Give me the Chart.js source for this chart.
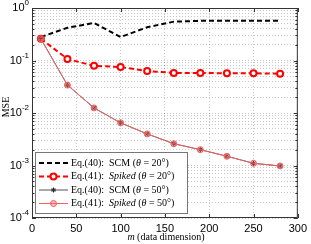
<!DOCTYPE html>
<html>
<head>
<meta charset="utf-8">
<script src="https://cdn.jsdelivr.net/npm/chart.js@4.4.0/dist/chart.umd.min.js"></script>
<style>
  html, body { margin: 0; padding: 0; background: #fff; }
</style>
</head>
<body>
<canvas id="mseChart" width="311" height="244"></canvas>
<script>
// m values (data dimension)
const dims = [10, 40, 70, 100, 130, 160, 190, 220, 250, 280];
// MSE
const scm20 = [0.28, 0.42, 0.52, 0.28, 0.43, 0.55, 0.57, 0.57, 0.57, 0.57];
const spiked20 = [0.26, 0.107, 0.079, 0.075, 0.063, 0.058, 0.058, 0.057, 0.057, 0.056];
const scm50 = [0.26, 0.034, 0.0125, 0.0065, 0.004, 0.0026, 0.002, 0.0015, 0.0011, 0.00098];
const spiked50 = [0.26, 0.034, 0.0125, 0.0065, 0.004, 0.0026, 0.002, 0.0015, 0.0011, 0.00098];

const xTicks = [0, 50, 100, 150, 200, 250, 300];
const yDecades = [-4, -3, -2, -1, 0];

const serif = '"Liberation Serif", "DejaVu Serif", serif';
const sans = '"Liberation Sans", Arial, sans-serif';

function pts(ys) {
  return dims.map((m, i) => ({ x: m, y: ys[i] }));
}

// log ticks: every 1..9 x 10^n, majors at the decades
function logTicks() {
  let out = [];
  yDecades.forEach((e, k) => {
    const top = k === yDecades.length - 1 ? 1 : 9;
    for (let s = 1; s <= top; s++) {
      out.push({ value: s * Math.pow(10, e), major: s === 1 });
    }
  });
  return out;
}

function drawRich(ctx, parts, x, y, size, align) {
  ctx.save();
  ctx.textBaseline = "middle";
  ctx.textAlign = "left";
  ctx.fillStyle = "#000";
  let total = 0;
  parts.forEach((p) => {
    ctx.font = (p[1] ? "italic " : "") + size + "px " + serif;
    total += ctx.measureText(p[0]).width;
  });
  let cx = align === "center" ? x - total / 2 : x;
  parts.forEach((p) => {
    ctx.font = (p[1] ? "italic " : "") + size + "px " + serif;
    ctx.fillText(p[0], cx, y);
    cx += ctx.measureText(p[0]).width;
  });
  ctx.restore();
}

// frame, inward ticks, y labels with exponents, axis titles, legend
const decorations = {
  id: "decorations",
  afterDraw(chart) {
    const ctx = chart.ctx;
    const a = chart.chartArea;
    const xs = chart.scales.x;
    const ys = chart.scales.y;
    ctx.save();

    // frame
    ctx.strokeStyle = "#333";
    ctx.lineWidth = 1;
    ctx.strokeRect(a.left + 0.5, a.top + 0.5, a.right - a.left - 1, a.bottom - a.top - 1);

    // inward ticks
    ctx.beginPath();
    xTicks.forEach((v) => {
      const px = Math.round(xs.getPixelForValue(v)) + 0.5;
      ctx.moveTo(px, a.bottom);
      ctx.lineTo(px, a.bottom - 4);
      ctx.moveTo(px, a.top);
      ctx.lineTo(px, a.top + 4);
    });
    logTicks().forEach((t) => {
      const py = Math.round(ys.getPixelForValue(t.value)) + 0.5;
      const len = t.major ? 4 : 2.5;
      ctx.moveTo(a.left, py);
      ctx.lineTo(a.left + len, py);
      ctx.moveTo(a.right, py);
      ctx.lineTo(a.right - len, py);
    });
    ctx.stroke();

    // y tick labels 10^n
    ctx.fillStyle = "#000";
    ctx.textBaseline = "middle";
    yDecades.forEach((e) => {
      const py = ys.getPixelForValue(Math.pow(10, e));
      const expTxt = e === 0 ? "0" : "-" + Math.abs(e);
      ctx.font = "8px " + sans;
      const ew = ctx.measureText(expTxt).width;
      ctx.textAlign = "right";
      ctx.fillText(expTxt, 29, py - 5);
      ctx.font = "11px " + sans;
      ctx.fillText("10", 29 - ew, py);
    });

    // y title
    ctx.save();
    ctx.translate(6, 107);
    ctx.rotate(-Math.PI / 2);
    ctx.font = "10px " + serif;
    ctx.textAlign = "center";
    ctx.textBaseline = "middle";
    ctx.fillText("MSE", 0, 0);
    ctx.restore();

    // x title
    drawRich(ctx, [["m", true], [" (data dimension)", false]], 166, 237, 10, "center");

    // legend
    const lx = 35, ly = 152, lw = 152, lh = 61;
    ctx.fillStyle = "#fff";
    ctx.fillRect(lx, ly, lw, lh);
    ctx.strokeStyle = "#777";
    ctx.lineWidth = 1;
    ctx.strokeRect(lx + 0.5, ly + 0.5, lw, lh);

    const rows = [
      { ds: 0, parts: [["Eq.(40):  SCM (", false], ["\u03b8", true], [" = 20\u00b0)", false]] },
      { ds: 1, parts: [["Eq.(41):  ", false], ["Spiked", true], [" (", false], ["\u03b8", true], [" = 20\u00b0)", false]] },
      { ds: 2, parts: [["Eq.(40):  SCM (", false], ["\u03b8", true], [" = 50\u00b0)", false]] },
      { ds: 3, parts: [["Eq.(41):  ", false], ["Spiked", true], [" (", false], ["\u03b8", true], [" = 50\u00b0)", false]] },
    ];
    rows.forEach((r, i) => {
      const y = ly + 11 + i * 13.5;
      const d = chart.data.datasets[r.ds];
      ctx.save();
      ctx.strokeStyle = d.borderColor;
      ctx.lineWidth = d.borderWidth;
      ctx.setLineDash(d.borderDash || []);
      ctx.beginPath();
      ctx.moveTo(39, y);
      ctx.lineTo(68, y);
      ctx.stroke();
      ctx.restore();
      if (d.pointRadius > 0) {
        ctx.save();
        ctx.fillStyle = d.pointBackgroundColor;
        ctx.strokeStyle = d.pointBorderColor;
        ctx.lineWidth = d.pointBorderWidth;
        Chart.helpers.drawPoint(ctx, {
          pointStyle: d.pointStyle,
          radius: d.pointRadius,
          rotation: 0,
          borderWidth: d.pointBorderWidth,
        }, 53.5, y);
        ctx.restore();
      }
      drawRich(ctx, r.parts, 71, y, 10, "left");
    });

    ctx.restore();
  },
};

const ctx = document.getElementById("mseChart").getContext("2d");

new Chart(ctx, {
  type: "line",
  data: {
    datasets: [
      {
        label: "Eq.(40): SCM (\u03b8 = 20\u00b0)",
        data: pts(scm20),
        borderColor: "#000",
        borderWidth: 2,
        borderDash: [5, 3],
        pointRadius: 0,
        order: 4,
      },
      {
        label: "Eq.(41): Spiked (\u03b8 = 20\u00b0)",
        data: pts(spiked20),
        borderColor: "#ff0000",
        borderWidth: 2,
        borderDash: [5, 3],
        pointStyle: "circle",
        pointRadius: 3,
        pointBorderWidth: 2,
        pointBorderColor: "#ff0000",
        pointBackgroundColor: "#fff",
        order: 3,
      },
      {
        label: "Eq.(40): SCM (\u03b8 = 50\u00b0)",
        data: pts(scm50),
        borderColor: "#555",
        borderWidth: 1,
        pointStyle: "star",
        pointRadius: 2.5,
        pointBorderWidth: 1,
        pointBorderColor: "#222",
        pointBackgroundColor: "#222",
        order: 2,
      },
      {
        label: "Eq.(41): Spiked (\u03b8 = 50\u00b0)",
        data: pts(spiked50),
        borderColor: "#f26464",
        borderWidth: 1,
        pointStyle: "circle",
        pointRadius: 3,
        pointBorderWidth: 1,
        pointBorderColor: "#f06060",
        pointBackgroundColor: "rgba(240,96,96,0.4)",
        order: 1,
      },
    ],
  },
  options: {
    responsive: false,
    animation: false,
    devicePixelRatio: 1,
    layout: { padding: { top: 8, right: 11, left: 0, bottom: 0 } },
    plugins: {
      legend: { display: false },
      tooltip: { enabled: false },
    },
    elements: { line: { tension: 0 } },
    scales: {
      x: {
        type: "linear",
        min: 0,
        max: 300,
        afterBuildTicks: (s) => {
          s.ticks = xTicks.map((v) => ({ value: v }));
        },
        afterFit: (s) => {
          s.height = 26;
        },
        ticks: {
          font: { family: sans, size: 11 },
          color: "#000",
          padding: 4,
          maxRotation: 0,
          autoSkip: false,
        },
        grid: { color: "rgba(0,0,0,0.22)", drawTicks: false, lineWidth: 1 },
        border: { display: false, dash: [1, 2] },
      },
      y: {
        type: "logarithmic",
        min: 1e-4,
        max: 1,
        afterBuildTicks: (s) => {
          s.ticks = logTicks();
        },
        afterFit: (s) => {
          s.width = 32;
        },
        ticks: { display: false, autoSkip: false },
        grid: { color: "rgba(0,0,0,0.22)", drawTicks: false, lineWidth: 1 },
        border: { display: false, dash: [1, 2] },
      },
    },
  },
  plugins: [decorations],
});
</script>
</body>
</html>
